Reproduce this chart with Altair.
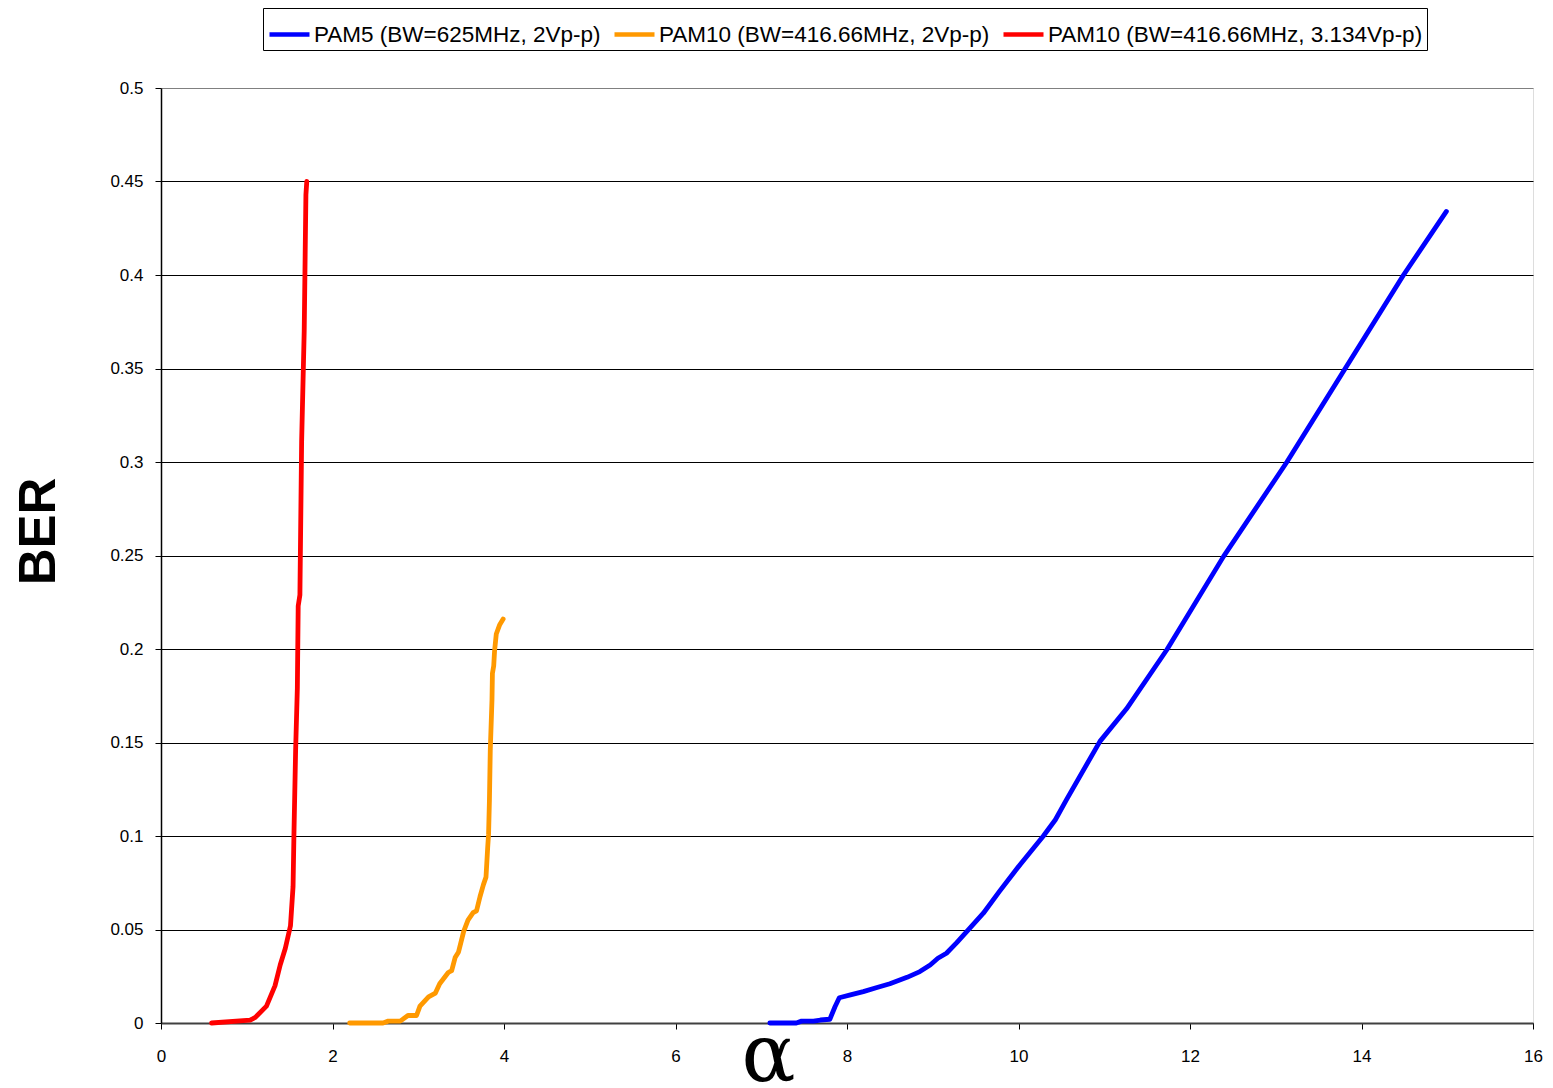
import altair as alt
import pandas as pd

# ---- data ----
series_names = [
    "PAM5 (BW=625MHz, 2Vp-p)",
    "PAM10 (BW=416.66MHz, 2Vp-p)",
    "PAM10 (BW=416.66MHz, 3.134Vp-p)",
]
series_colors = ["#0000FF", "#FF9900", "#FF0000"]

pam5_x = [7.10, 7.41, 7.47, 7.61, 7.69, 7.80, 7.86, 7.91, 8.04, 8.19, 8.35, 8.50, 8.70,
          8.85, 8.97, 9.06, 9.16, 9.28, 9.43, 9.59, 9.78, 10.02, 10.29, 10.43, 10.56,
          10.95, 11.26, 11.73, 12.39, 13.13, 13.81, 14.49, 14.99]
pam5_y = [0.0, 0.0, 0.001, 0.001, 0.0016, 0.002, 0.0087, 0.0135, 0.015, 0.0168, 0.019,
          0.021, 0.0244, 0.0275, 0.031, 0.0346, 0.0373, 0.043, 0.0506, 0.0587, 0.0705,
          0.0848, 0.1, 0.1087, 0.1195, 0.1506, 0.168, 0.1996, 0.2494, 0.300, 0.350,
          0.400, 0.434]

pam10_x = [2.20, 2.59, 2.65, 2.79, 2.88, 2.98, 3.02, 3.12, 3.20, 3.25, 3.35, 3.39, 3.43,
           3.47, 3.53, 3.58, 3.64, 3.68, 3.72, 3.76, 3.79, 3.81, 3.82, 3.83, 3.84, 3.86,
           3.865, 3.88, 3.89, 3.91, 3.95, 3.99]
pam10_y = [0.0, 0.0, 0.001, 0.001, 0.004, 0.004, 0.009, 0.014, 0.016, 0.021, 0.027,
           0.028, 0.035, 0.038, 0.049, 0.055, 0.059, 0.060, 0.0675, 0.074, 0.078, 0.094,
           0.101, 0.119, 0.146, 0.173, 0.187, 0.191, 0.199, 0.208, 0.213, 0.216]

pam10h_x = [0.59, 1.04, 1.10, 1.23, 1.33, 1.39, 1.45, 1.51, 1.54, 1.55, 1.57, 1.59,
            1.60, 1.62, 1.64, 1.67, 1.69, 1.70]
pam10h_y = [0.0, 0.0015, 0.003, 0.009, 0.02, 0.031, 0.04, 0.052, 0.073, 0.1, 0.146,
            0.179, 0.223, 0.229, 0.311, 0.37, 0.443, 0.450]

x_ticks = [0, 2, 4, 6, 8, 10, 12, 14, 16]
y_ticks = [0, 0.05, 0.1, 0.15, 0.2, 0.25, 0.3, 0.35, 0.4, 0.45, 0.5]

rows = []
for name, xs, ys in zip(series_names,
                        [pam5_x, pam10_x, pam10h_x],
                        [pam5_y, pam10_y, pam10h_y]):
    for i, (xv, yv) in enumerate(zip(xs, ys)):
        rows.append({"series": name, "alpha": xv, "ber": yv, "idx": i})
df = pd.DataFrame(rows)

FONT = "Liberation Sans"

chart = alt.Chart(df).mark_line(strokeWidth=4.8, strokeCap="round", strokeJoin="round").encode(
    x=alt.X("alpha:Q",
            scale=alt.Scale(domain=[0, 16], nice=False, zero=False),
            axis=alt.Axis(values=x_ticks, title="α", grid=False,
                          labelFlush=False, labelOverlap=False,
                          labelFont=FONT, labelFontSize=17, labelColor="black",
                          labelPadding=19, tickSize=6, tickColor="black",
                          domainColor="#404040", domainWidth=2,
                          titleFont="DejaVu Serif", titleFontSize=80,
                          titleFontWeight="normal", titleColor="black",
                          titleAnchor="start", titleAlign="center",
                          titleX=607, titleY=57, titleBaseline="alphabetic")),
    y=alt.Y("ber:Q",
            scale=alt.Scale(domain=[0, 0.5], nice=False),
            axis=alt.Axis(values=y_ticks, format="~g", title="BER", grid=True,
                          gridColor={"condition": {"test": "datum.value >= 0.5",
                                                   "value": "#808080"},
                                     "value": "black"},
                          gridWidth=1, gridOpacity=1,
                          labelFont=FONT, labelFontSize=17, labelColor="black",
                          labelPadding=12, tickSize=6, tickColor="black",
                          domainColor="black", domainWidth=1.5,
                          titleFont=FONT, titleFontSize=51, titleFontWeight="bold",
                          titleColor="black", titleAngle=270, titleAlign="center",
                          titleBaseline="alphabetic", titleX=-107, titleY=443)),
    color=alt.Color("series:N",
                    scale=alt.Scale(domain=series_names, range=series_colors),
                    legend=alt.Legend(orient="none", legendX=102, legendY=-80,
                                      direction="horizontal", title=None,
                                      symbolType="stroke", symbolSize=1600,
                                      symbolStrokeWidth=4.5, labelFont=FONT,
                                      labelFontSize=22.5, labelColor="black",
                                      labelLimit=0, labelOffset=2,
                                      columnPadding=4, padding=4,
                                      strokeColor="black", fillColor="white")),
    detail="series:N",
    order="idx:Q",
).properties(
    width=1372,
    height=935,
    autosize=alt.AutoSizeParams(type="none"),
    padding={"left": 153, "top": 80, "right": 12, "bottom": 68},
).configure_view(
    stroke="#808080", strokeWidth=2
).configure(background="white")

chart.save("out.html", embed_options={"renderer": "svg", "actions": False})
